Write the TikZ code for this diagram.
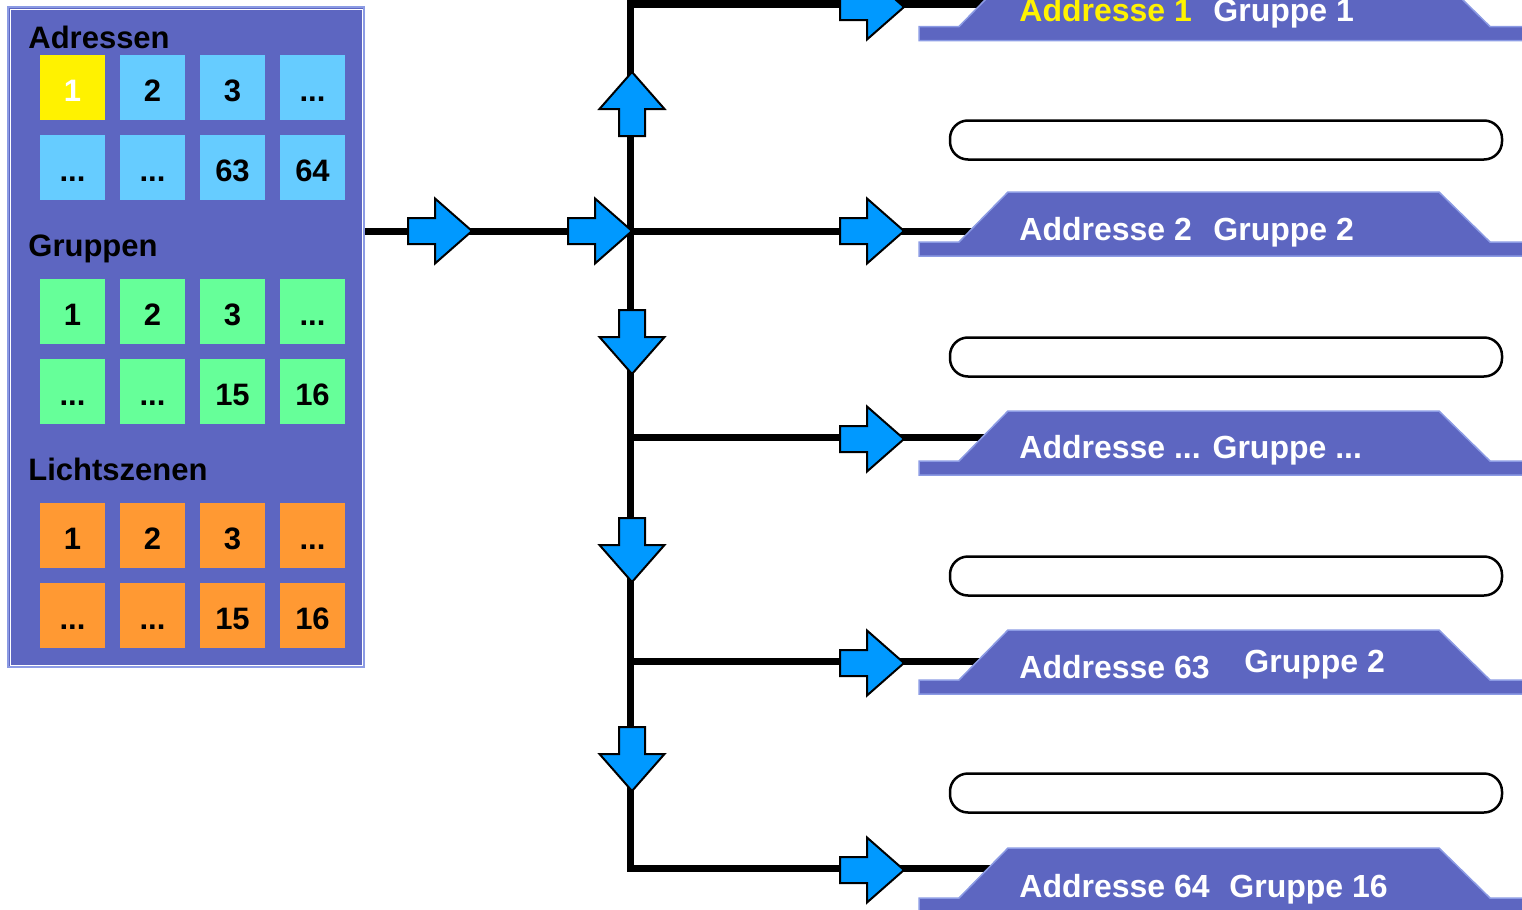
\documentclass[tikz,border=0pt]{standalone}
\usepackage{fontspec}
\setmainfont{Liberation Sans}
\definecolor{panel}{RGB}{93,102,193}
\definecolor{paneledge}{RGB}{140,155,228}
\definecolor{adr}{RGB}{102,204,255}
\definecolor{grp}{RGB}{102,255,153}
\definecolor{scn}{RGB}{255,153,51}
\definecolor{arrowblue}{RGB}{0,153,255}
\tikzset{
  cell/.style={minimum width=32.5pt, minimum height=32.5pt, inner sep=0pt,
    text height=14pt, text depth=0pt, font=\fontsize{15.5}{18}\selectfont\bfseries},
  hdr/.style={anchor=base west, inner sep=0pt, font=\fontsize{15.5}{18}\selectfont\bfseries},
  lbl/.style={anchor=base west, inner sep=0pt, text=white, font=\fontsize{16}{19}\selectfont\bfseries},
  bus/.style={line width=3.5pt, line join=miter, line cap=rect},
  trapstyle/.style={fill=panel, draw=paneledge, line width=0.75pt},
  capsule/.style={draw, line width=1.25pt, rounded corners=9pt, minimum width=276pt, minimum height=19.5pt, inner sep=0pt},
  blk/.pic={\draw[fill=arrowblue, line width=1pt, line join=miter]
     (-64,-13) -- (-37,-13) -- (-37,-32.5) -- (0,0) -- (-37,32.5) -- (-37,13) -- (-64,13) -- cycle;}
}
\begin{document}
\begin{tikzpicture}[x=0.5pt,y=-0.5pt]
\useasboundingbox (0,0) rectangle (1522,910);
% left panel
\node[fill=panel, draw=paneledge, line width=1pt, minimum width=178pt, minimum height=330pt, inner sep=0pt] (panel) at (186,337) {};
\draw[white, line width=0.5pt] ([shift={(3,3)}]panel.north west) rectangle ([shift={(-3,-3)}]panel.south east);
\node[hdr] (hA) at (28,48) {Adressen};
\node[hdr] (hG) at (28,256) {Gruppen};
\node[hdr] (hL) at (28,480) {Lichtszenen};
% Adressen cells
\node[cell, fill=yellow, text=white] (a1) at (72.5,87.5) {1};
\node[cell, fill=adr] (a2) at (152.5,87.5) {2};
\node[cell, fill=adr] (a3) at (232.5,87.5) {3};
\node[cell, fill=adr] (a4) at (312.5,87.5) {...};
\node[cell, fill=adr] (a5) at (72.5,167.5) {...};
\node[cell, fill=adr] (a6) at (152.5,167.5) {...};
\node[cell, fill=adr] (a7) at (232.5,167.5) {63};
\node[cell, fill=adr] (a8) at (312.5,167.5) {64};
% Gruppen cells
\node[cell, fill=grp] (g1) at (72.5,311.5) {1};
\node[cell, fill=grp] (g2) at (152.5,311.5) {2};
\node[cell, fill=grp] (g3) at (232.5,311.5) {3};
\node[cell, fill=grp] (g4) at (312.5,311.5) {...};
\node[cell, fill=grp] (g5) at (72.5,391.5) {...};
\node[cell, fill=grp] (g6) at (152.5,391.5) {...};
\node[cell, fill=grp] (g7) at (232.5,391.5) {15};
\node[cell, fill=grp] (g8) at (312.5,391.5) {16};
% Lichtszenen cells
\node[cell, fill=scn] (s1) at (72.5,535.5) {1};
\node[cell, fill=scn] (s2) at (152.5,535.5) {2};
\node[cell, fill=scn] (s3) at (232.5,535.5) {3};
\node[cell, fill=scn] (s4) at (312.5,535.5) {...};
\node[cell, fill=scn] (s5) at (72.5,615.5) {...};
\node[cell, fill=scn] (s6) at (152.5,615.5) {...};
\node[cell, fill=scn] (s7) at (232.5,615.5) {15};
\node[cell, fill=scn] (s8) at (312.5,615.5) {16};
% bus coordinates
\coordinate (src) at (365,231);
\coordinate (v1) at (630,4);
\coordinate (v2) at (630,231);
\coordinate (v3) at (630,437);
\coordinate (v4) at (630,661);
\coordinate (v5) at (630,868);
\coordinate (e1) at (995,4);
\coordinate (e2) at (995,231);
\coordinate (e3) at (995,437);
\coordinate (e4) at (995,661);
\coordinate (e5) at (995,868);
\draw[bus] (e1) -- (v1) -- (v5) -- (e5);
\draw[bus, line cap=butt] (src) -- (v2);
\draw[bus] (v2) -- (e2);
\draw[bus] (v3) -- (e3);
\draw[bus] (v4) -- (e4);
% capsules
\node[capsule] (c1) at (1226,140) {};
\node[capsule] (c2) at (1226,357) {};
\node[capsule] (c3) at (1226,576) {};
\node[capsule] (c4) at (1226,793) {};
% trapezoids
\foreach \b in {40.5,256,475,694,912} {
  \draw[trapstyle] (919,\b) -- (919,\b-14) -- (959,\b-14) -- (1008,\b-64) -- (1439,\b-64) -- (1490,\b-14) -- (1535,\b-14) -- (1535,\b) -- cycle;
}
% trapezoid labels
\node[lbl, text=yellow] (l1a) at (1019,21) {Addresse 1};
\node[lbl] (l1b) at (1213,21) {Gruppe 1};
\node[lbl] (l2a) at (1019,240) {Addresse 2};
\node[lbl] (l2b) at (1213,240) {Gruppe 2};
\node[lbl] (l3) at (1019,458) {Addresse ... Gruppe ...};
\node[lbl] (l4a) at (1019,678) {Addresse 63};
\node[lbl] (l4b) at (1244,672) {Gruppe 2};
\node[lbl] (l5a) at (1019,897) {Addresse 64};
\node[lbl] (l5b) at (1229,897) {Gruppe 16};
% block arrows
\pic at (472,231) {blk};
\pic at (632,231) {blk};
\pic[rotate=90] at (632,72) {blk};
\pic[rotate=-90] at (632,374) {blk};
\pic[rotate=-90] at (632,582) {blk};
\pic[rotate=-90] at (632,791) {blk};
\pic at (904,7) {blk};
\pic at (904,231) {blk};
\pic at (904,439) {blk};
\pic at (904,663) {blk};
\pic at (904,870) {blk};
\end{tikzpicture}
\end{document}
